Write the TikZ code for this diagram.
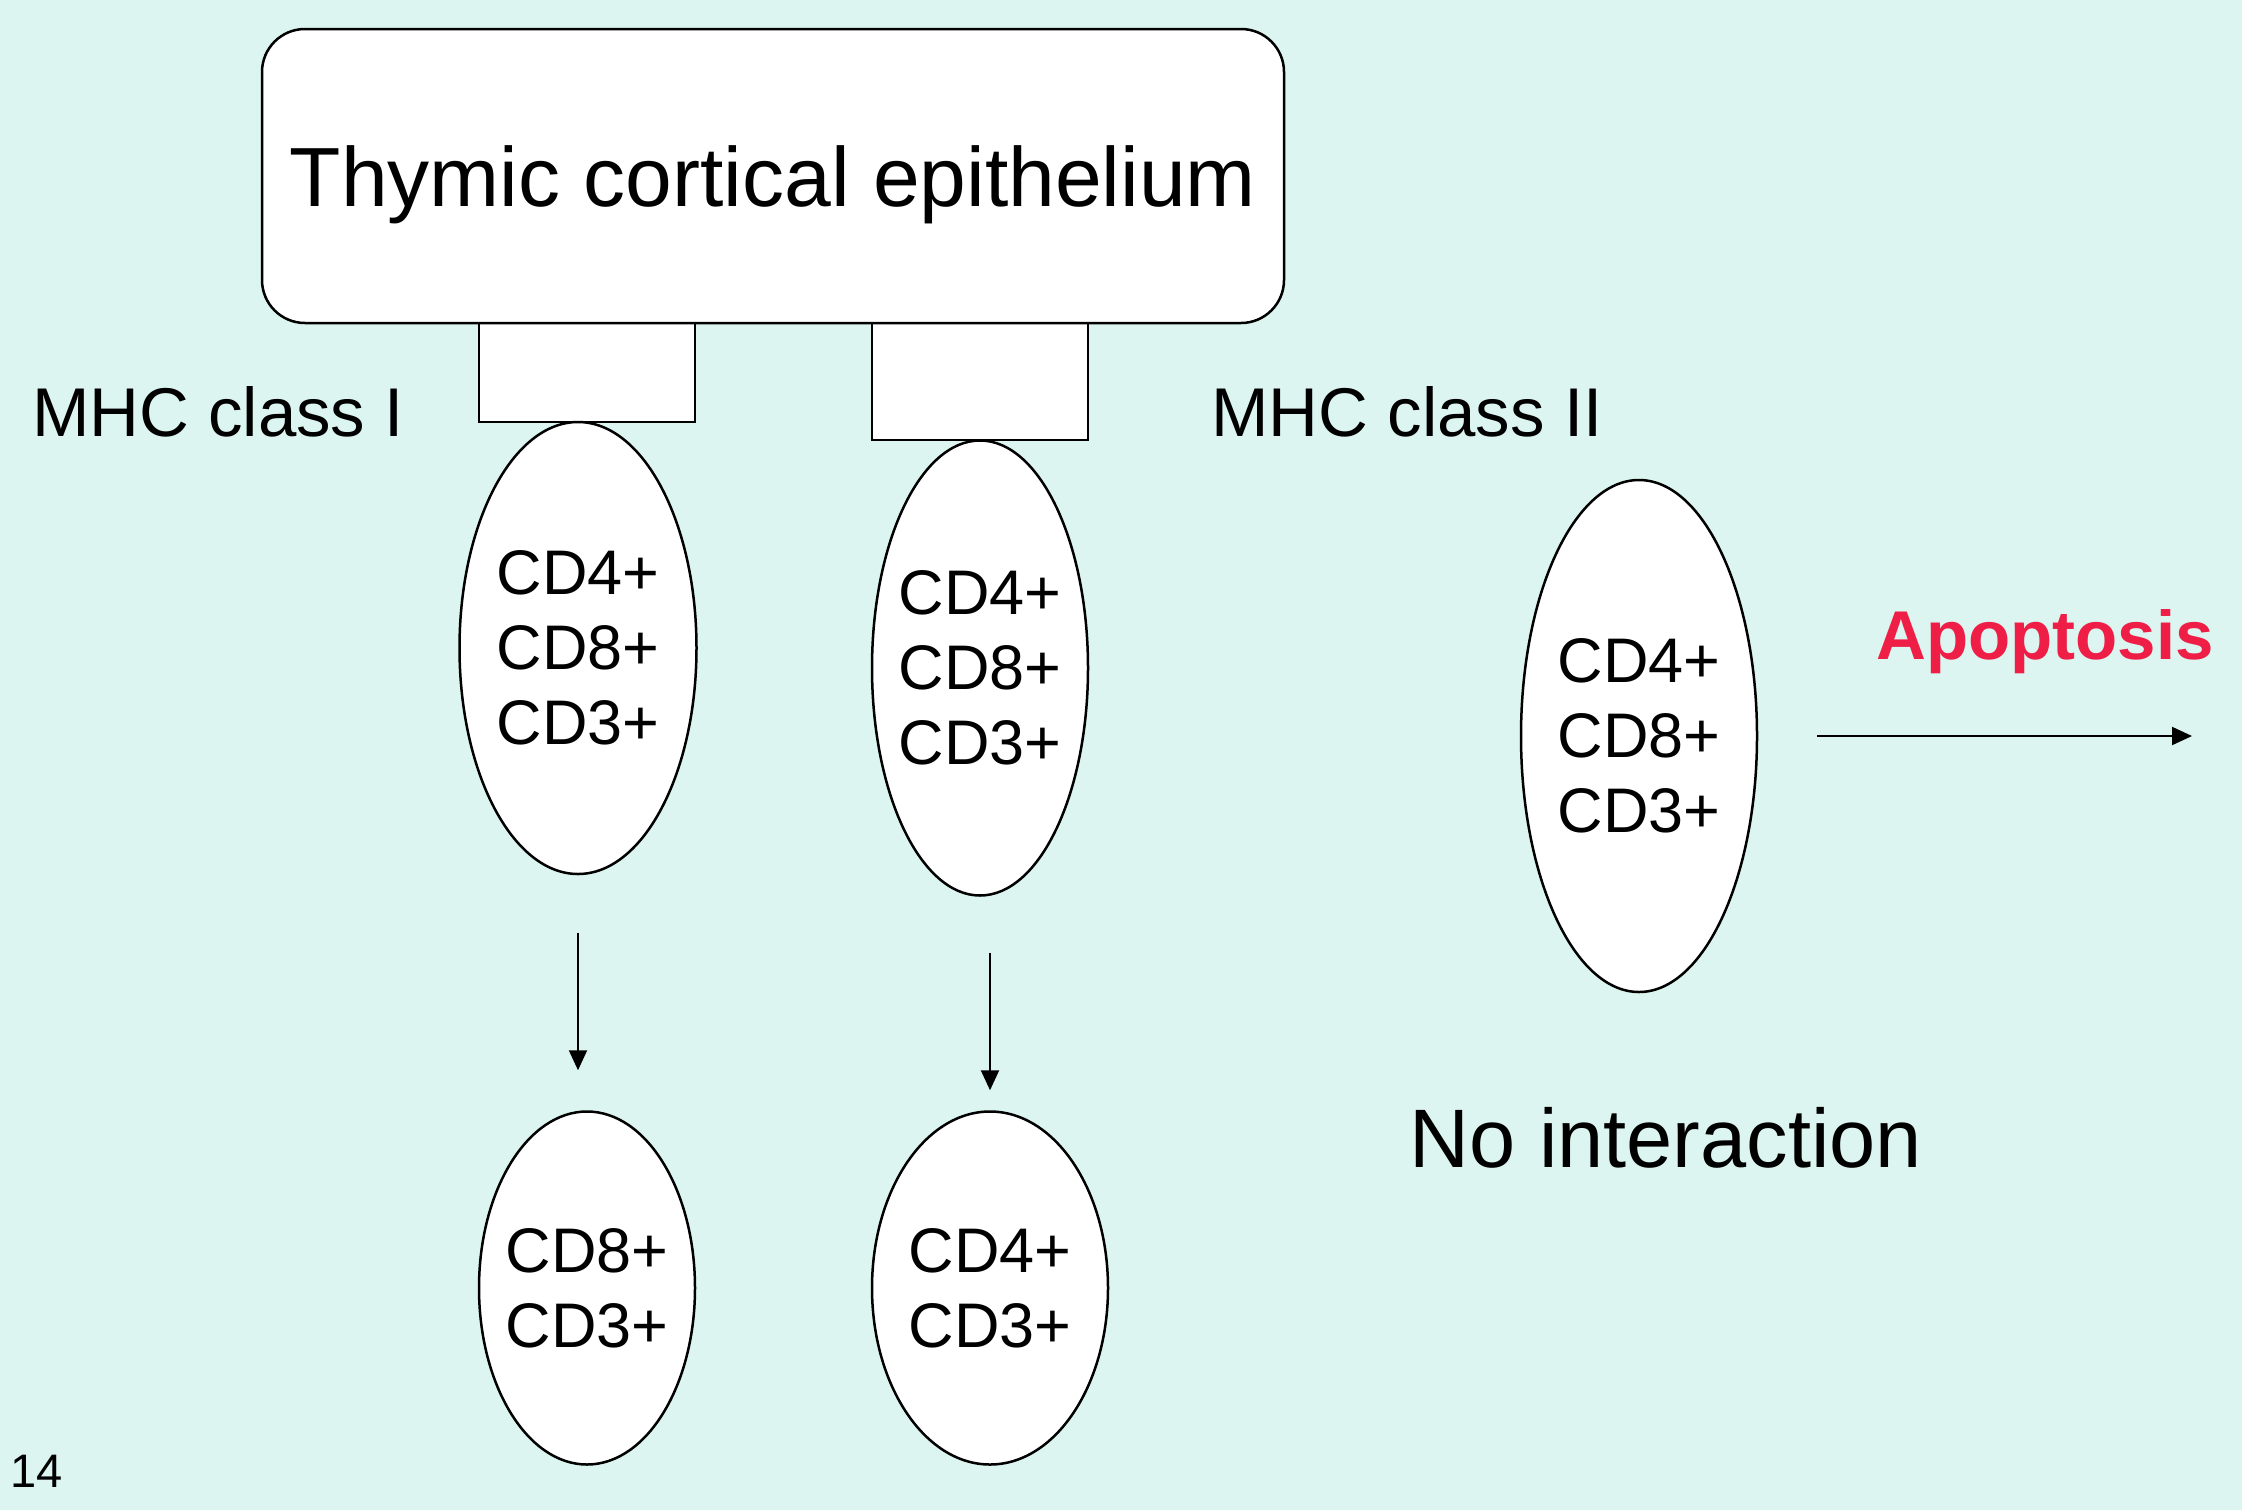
\documentclass[tikz,border=0pt]{standalone}
\usepackage{fontspec}
\setmainfont{Liberation Sans}
\usetikzlibrary{shapes.geometric,arrows.meta,calc}
\definecolor{bg}{RGB}{220,245,240}
\definecolor{apored}{RGB}{238,30,70}
\begin{document}
\begin{tikzpicture}[x=1pt,y=-1pt,
  cell/.style={ellipse,draw,line width=2.5pt,fill=white,inner sep=0pt},
  celltext/.style={align=center,inner sep=0pt,font=\fontsize{63}{75}\selectfont},
  mhcbox/.style={rectangle,draw,line width=2.5pt,fill=white,inner sep=0pt},
  lbl/.style={anchor=base,inner sep=0pt,font=\fontsize{69}{80}\selectfont},
  arr/.style={line width=2pt,-{Triangle[length=20pt,width=18pt]}}]
\fill[bg] (0,0) rectangle (2242,1510);
\useasboundingbox (0,0) rectangle (2242,1510);
% MHC molecules
\node[mhcbox,minimum width=216pt,minimum height=99pt] (mhc1) at (587,372.5) {};
\node[mhcbox,minimum width=216pt,minimum height=117pt] (mhc2) at (980,381.5) {};
% epithelium
\node[draw,line width=2.5pt,fill=white,rounded corners=43pt,minimum width=1022pt,
  minimum height=294pt,inner sep=0pt,text depth=0pt,font=\fontsize{84}{95}\selectfont]
  (epi) at (773,176) {Thymic cortical epithelium};
% cells
\node[cell,minimum width=237pt,minimum height=452pt,
  label={[celltext]center:CD4+\\CD8+\\CD3+}] (e1) at (578,648) {};
\node[cell,minimum width=216pt,minimum height=455pt,
  label={[celltext]center:CD4+\\CD8+\\CD3+}] (e2) at (980,668) {};
\node[cell,minimum width=236pt,minimum height=512pt,
  label={[celltext]center:CD4+\\CD8+\\CD3+}] (e3) at (1639,736) {};
\node[cell,minimum width=216pt,minimum height=353pt,
  label={[celltext]center:CD8+\\CD3+}] (e4) at (587,1288) {};
\node[cell,minimum width=236pt,minimum height=353pt,
  label={[celltext]center:CD4+\\CD3+}] (e5) at (990,1288) {};
% labels
\node[lbl] (mhcI) at (218,436) {MHC class I};
\node[lbl] (mhcII) at (1407,436) {MHC class II};
\node[lbl,text=apored,font=\fontsize{69}{80}\selectfont\bfseries] (apo) at (2045,659) {Apoptosis};
\node[anchor=base,inner sep=0pt,font=\fontsize{83}{95}\selectfont] (noint) at (1666,1167) {No interaction};
\node[anchor=base,inner sep=0pt,font=\fontsize{47}{55}\selectfont] (pg) at (37,1487) {14};
% arrows
\draw[arr] ($(e1.south)+(0,58)$) -- ($(e1.south |- e4.north)+(0,-40)$);
\draw[arr] ($(e5.north |- e2.south)+(0,56)$) -- ($(e5.north)+(0,-20)$);
\coordinate (apoEnd) at (2192,736);
\draw[arr] ($(e3.east)+(59,0)$) -- (apoEnd);
\end{tikzpicture}
\end{document}
